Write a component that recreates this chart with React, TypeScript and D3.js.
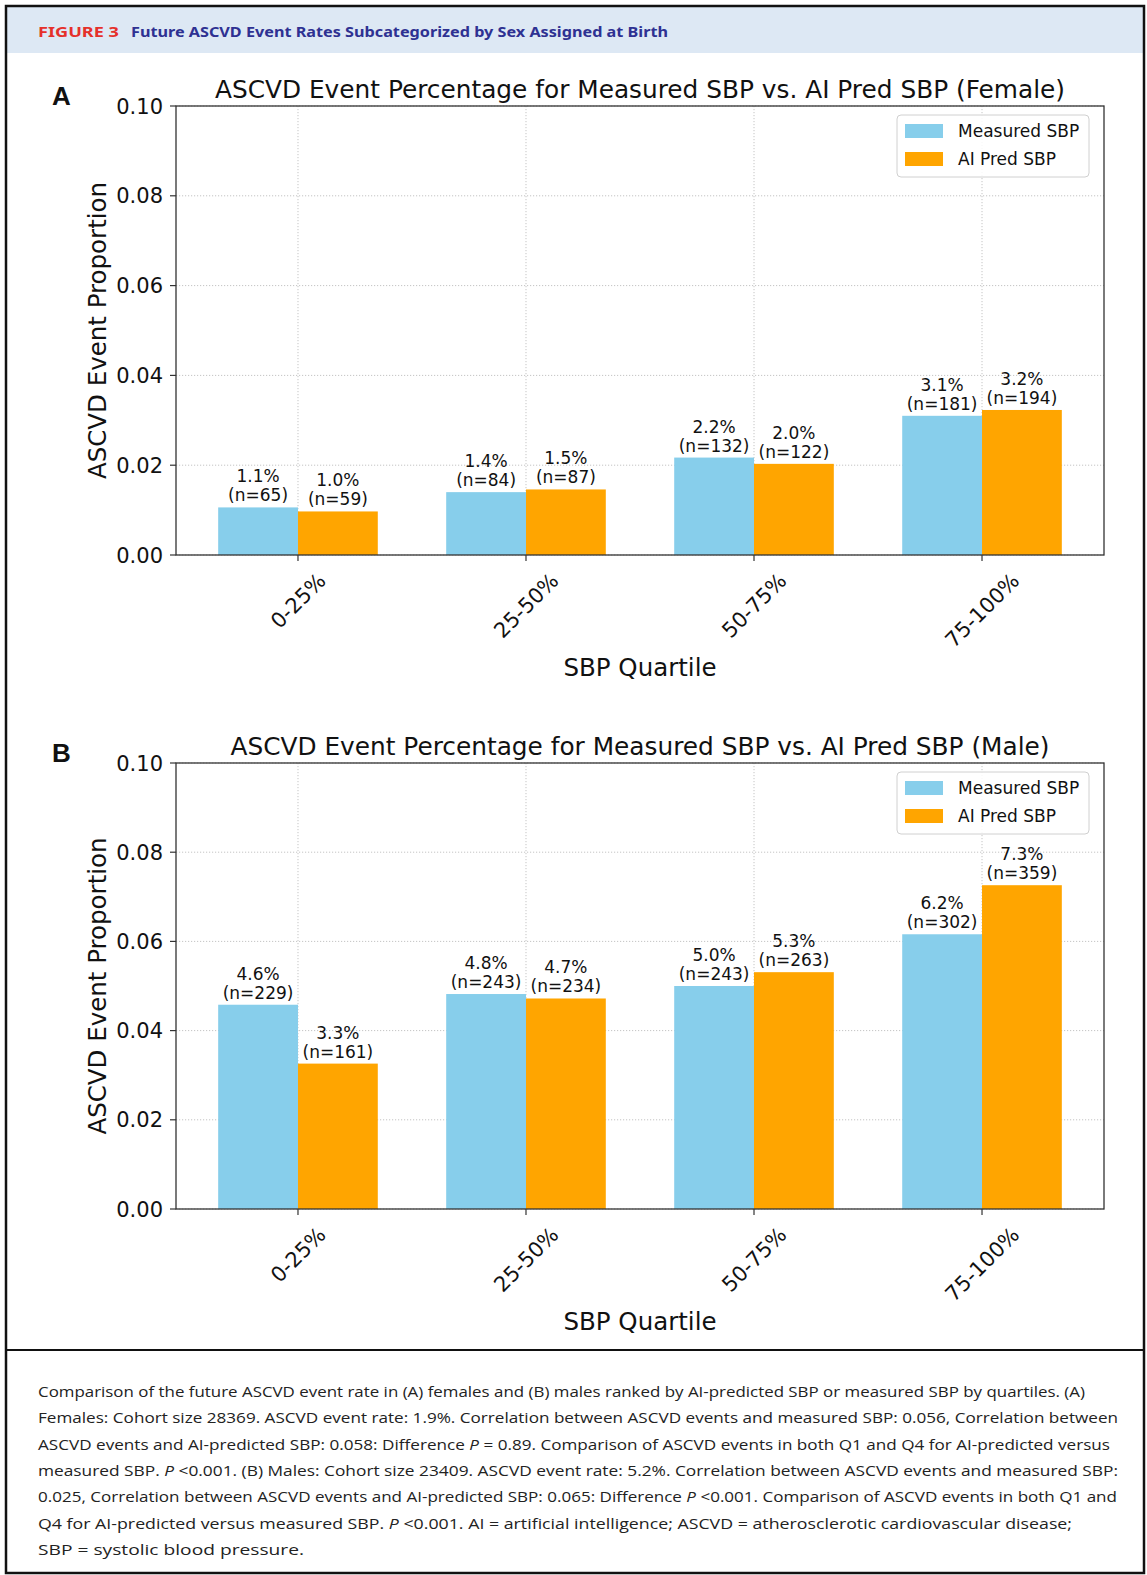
import React from "react";
import * as d3 from "d3";

const categories = ["0-25%", "25-50%", "50-75%", "75-100%"];
const seriesNames = ["Measured SBP", "AI Pred SBP"];
const seriesColors = ["#87CEEB", "#FFA500"];

const femaleMeasured = [0.0106, 0.014, 0.0217, 0.031];
const femaleAI = [0.0097, 0.0146, 0.0203, 0.0323];
const femaleMeasuredN = [65, 84, 132, 181];
const femaleAIN = [59, 87, 122, 194];

const maleMeasured = [0.0458, 0.0482, 0.05, 0.0616];
const maleAI = [0.0326, 0.0472, 0.0531, 0.0726];
const maleMeasuredN = [229, 243, 243, 302];
const maleAIN = [161, 234, 263, 359];

const yTicks = [0, 0.02, 0.04, 0.06, 0.08, 0.1];

const headerLabel = "FIGURE 3";
const headerTitle = "Future ASCVD Event Rates Subcategorized by Sex Assigned at Birth";

const captionLines: (string | { i: string })[][] = [
  ["Comparison of the future ASCVD event rate in (A) females and (B) males ranked by AI-predicted SBP or measured SBP by quartiles. (A)"],
  ["Females: Cohort size 28369. ASCVD event rate: 1.9%. Correlation between ASCVD events and measured SBP: 0.056, Correlation between"],
  ["ASCVD events and AI-predicted SBP: 0.058: Difference ", { i: "P" }, " = 0.89. Comparison of ASCVD events in both Q1 and Q4 for AI-predicted versus"],
  ["measured SBP. ", { i: "P" }, " <0.001. (B) Males: Cohort size 23409. ASCVD event rate: 5.2%. Correlation between ASCVD events and measured SBP:"],
  ["0.025, Correlation between ASCVD events and AI-predicted SBP: 0.065: Difference ", { i: "P" }, " <0.001. Comparison of ASCVD events in both Q1 and"],
  ["Q4 for AI-predicted versus measured SBP. ", { i: "P" }, " <0.001. AI = artificial intelligence; ASCVD = atherosclerotic cardiovascular disease;"],
  ["SBP = systolic blood pressure."],
];
const captionWidths = [1047, 1080, 1072, 1080, 1079, 1034, 266];

const FONT = "'DejaVu Sans', sans-serif";

let ctx: CanvasRenderingContext2D | null = null;
function textWidth(s: string, size: number): number {
  if (!ctx) ctx = document.createElement("canvas").getContext("2d");
  if (!ctx) return s.length * size * 0.6;
  ctx.font = `${size}px 'DejaVu Sans'`;
  return ctx.measureText(s).width;
}

const LEFT = 176;
const RIGHT = 1104;
const BAR_W = 0.35;

function Panel(props: {
  top: number;
  bottom: number;
  letter: string;
  title: string;
  measured: number[];
  ai: number[];
  measuredN: number[];
  aiN: number[];
}) {
  const { top, bottom, letter, title, measured, ai, measuredN, aiN } = props;
  const x = d3.scaleLinear().domain([-0.535, 3.535]).range([LEFT, RIGHT]);
  const y = d3.scaleLinear().domain([0, 0.1]).range([bottom, top]);
  const series = [measured, ai];
  const ns = [measuredN, aiN];
  const tickFont = 21;
  const cx = (LEFT + RIGHT) / 2;
  const cy = (top + bottom) / 2;
  const legX = 897;
  const legY = top + 9;
  return (
    <g>
      <text x={52} y={top - 1} fontFamily="'Liberation Sans', Arial, sans-serif" fontWeight="bold" fontSize={26} fill="#111">
        {letter}
      </text>
      <text x={cx} y={top - 8} textAnchor="middle" fontFamily={FONT} fontSize={24.8} fill="#111">
        {title}
      </text>
      {/* grid */}
      {yTicks.map((t) => (
        <line key={"gy" + t} x1={LEFT} x2={RIGHT} y1={y(t)} y2={y(t)} stroke="#c4c4c4" strokeWidth={1} strokeDasharray="1.2,1.8" />
      ))}
      {categories.map((c, i) => (
        <line key={"gx" + c} x1={x(i)} x2={x(i)} y1={top} y2={bottom} stroke="#c4c4c4" strokeWidth={1} strokeDasharray="1.2,1.8" />
      ))}
      {/* bars */}
      {series.map((vals, s) =>
        vals.map((v, i) => {
          const x0 = s === 0 ? x(i - BAR_W) : x(i);
          const x1 = s === 0 ? x(i) : x(i + BAR_W);
          return <rect key={`b${s}-${i}`} x={x0} y={y(v)} width={x1 - x0} height={y(0) - y(v)} fill={seriesColors[s]} />;
        })
      )}
      {/* bar labels */}
      {series.map((vals, s) =>
        vals.map((v, i) => {
          const bx = x(s === 0 ? i - BAR_W / 2 : i + BAR_W / 2);
          const ty = y(v);
          return (
            <g key={`l${s}-${i}`} fontFamily={FONT} fontSize={17} fill="#111" textAnchor="middle">
              <text x={bx} y={ty - 25}>{(v * 100).toFixed(1) + "%"}</text>
              <text x={bx} y={ty - 6}>{`(n=${ns[s][i]})`}</text>
            </g>
          );
        })
      )}
      {/* spines */}
      <rect x={LEFT} y={top} width={RIGHT - LEFT} height={bottom - top} fill="none" stroke="#333" strokeWidth={1.3} />
      {/* y ticks */}
      {yTicks.map((t) => (
        <g key={"yt" + t}>
          <line x1={LEFT - 6} x2={LEFT} y1={y(t)} y2={y(t)} stroke="#333" strokeWidth={1.2} />
          <text x={LEFT - 13} y={y(t) + 7.5} textAnchor="end" fontFamily={FONT} fontSize={tickFont} fill="#111">
            {d3.format(".2f")(t)}
          </text>
        </g>
      ))}
      {/* x ticks */}
      {categories.map((c, i) => {
        const w = textWidth(c, tickFont);
        const lh = tickFont * 1.17;
        const ccy = bottom + 13 + ((w + lh) * Math.SQRT1_2) / 2;
        return (
          <g key={"xt" + c}>
            <line x1={x(i)} x2={x(i)} y1={bottom} y2={bottom + 6} stroke="#333" strokeWidth={1.2} />
            <text
              transform={`translate(${x(i)},${ccy}) rotate(-45)`}
              textAnchor="middle"
              dy="0.36em"
              fontFamily={FONT}
              fontSize={tickFont}
              fill="#111"
            >
              {c}
            </text>
          </g>
        );
      })}
      <text x={cx} y={bottom + 121} textAnchor="middle" fontFamily={FONT} fontSize={24.5} fill="#111">
        SBP Quartile
      </text>
      <text transform={`translate(106,${cy}) rotate(-90)`} textAnchor="middle" fontFamily={FONT} fontSize={24.5} fill="#111">
        ASCVD Event Proportion
      </text>
      {/* legend */}
      <rect x={legX} y={legY} width={192} height={62} rx={4} fill="white" fillOpacity={0.85} stroke="#d0d0d0" strokeWidth={1} />
      {seriesNames.map((n, s) => (
        <g key={"lg" + n}>
          <rect x={legX + 8} y={legY + 9 + s * 28} width={38} height={14} fill={seriesColors[s]} />
          <text x={legX + 61} y={legY + 21.5 + s * 28} fontFamily={FONT} fontSize={17} fill="#111">
            {n}
          </text>
        </g>
      ))}
    </g>
  );
}

export default function App() {
  return (
    <svg
      width={1147}
      height={1575}
      viewBox="0 0 1147 1575"
      style={{ position: "absolute", left: 0, top: 0, background: "white" }}
    >
      <rect x={0} y={0} width={1147} height={1575} fill="white" />
      <rect x={6} y={6} width={1138} height={47} fill="#dde8f4" />
      <text x={38} y={37} fontFamily="'Noto Sans', sans-serif" fontWeight="bold" fontSize={14} fill="#e5302a" textLength={81} lengthAdjust="spacingAndGlyphs">
        {headerLabel}
      </text>
      <text x={131} y={37} fontFamily="'Noto Sans', sans-serif" fontWeight="bold" fontSize={14} fill="#2e3192" textLength={537} lengthAdjust="spacingAndGlyphs">
        {headerTitle}
      </text>

      <Panel
        top={106}
        bottom={555}
        letter="A"
        title="ASCVD Event Percentage for Measured SBP vs. AI Pred SBP (Female)"
        measured={femaleMeasured}
        ai={femaleAI}
        measuredN={femaleMeasuredN}
        aiN={femaleAIN}
      />
      <Panel
        top={763}
        bottom={1209}
        letter="B"
        title="ASCVD Event Percentage for Measured SBP vs. AI Pred SBP (Male)"
        measured={maleMeasured}
        ai={maleAI}
        measuredN={maleMeasuredN}
        aiN={maleAIN}
      />

      <line x1={6} x2={1144} y1={1350} y2={1350} stroke="#111" strokeWidth={2} />
      {captionLines.map((parts, li) => (
        <text
          key={"cap" + li}
          x={38}
          y={1397 + li * 26.3}
          fontFamily="'Open Sans', 'Noto Sans', sans-serif"
          fontSize={15}
          fill="#222"
          textLength={captionWidths[li]}
          lengthAdjust="spacingAndGlyphs"
        >
          {parts.map((p, k) =>
            typeof p === "string" ? (
              <tspan key={k}>{p}</tspan>
            ) : (
              <tspan key={k} fontStyle="italic">
                {p.i}
              </tspan>
            )
          )}
        </text>
      ))}
      <rect x={6} y={6} width={1138} height={1567} fill="none" stroke="#111" strokeWidth={2.5} />
    </svg>
  );
}
